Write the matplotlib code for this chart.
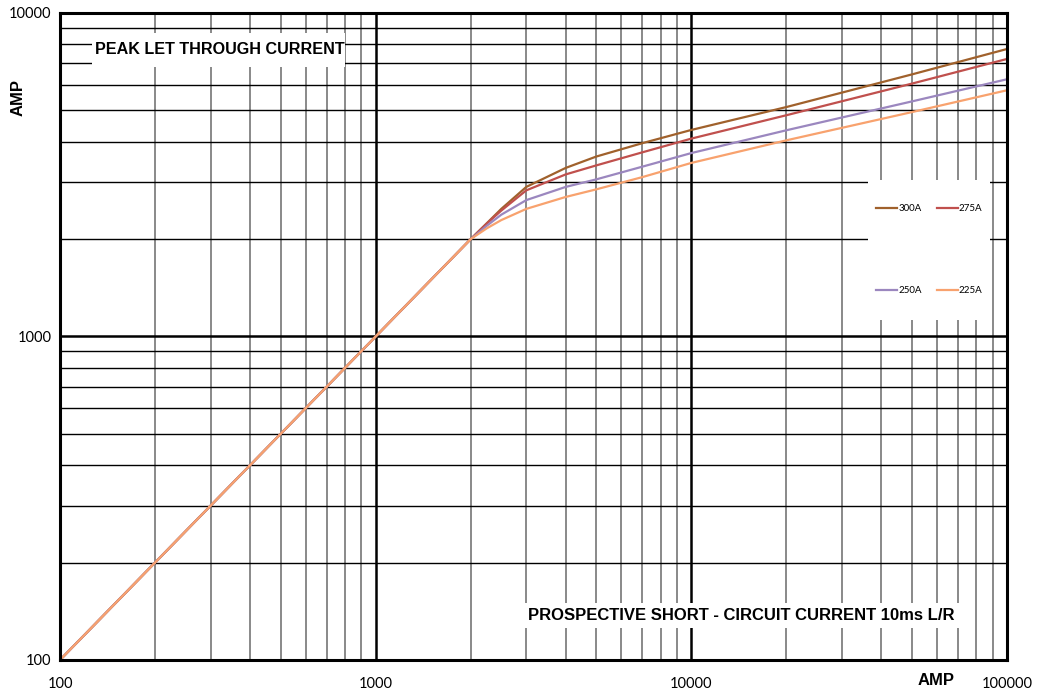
import matplotlib
matplotlib.use('Agg')
from matplotlib import pyplot as plt
from matplotlib.patches import Rectangle

plt.rcParams['font.family'] = ['Lato', 'DejaVu Sans']
BOLD = ['Liberation Sans', 'DejaVu Sans']

# prospective current (A)
current = [100, 2000, 2250, 2500, 3000, 4000, 5000, 7000, 10000, 20000, 50000, 100000]

# peak let-through current (A) per fuse rating
peak_300 = [100, 2000, 2240, 2480, 2900, 3320, 3600, 3960, 4350, 5120, 6460, 7740]
peak_275 = [100, 2000, 2235, 2450, 2830, 3170, 3380, 3710, 4090, 4830, 6050, 7210]
peak_250 = [100, 2000, 2200, 2380, 2640, 2900, 3060, 3350, 3690, 4340, 5330, 6240]
peak_225 = [100, 2000, 2160, 2290, 2480, 2700, 2850, 3110, 3440, 4040, 4940, 5770]

labels = ['300A', '275A', '250A', '225A']
colors = ['#A0612C', '#C0504D', '#9B87BF', '#F8A26E']

xticks = [100, 1000, 10000, 100000]
yticks = [100, 1000, 10000]

fig = plt.figure(figsize=(10.4, 6.95), dpi=100)
ax = fig.add_axes([0.0577, 0.0504, 0.9106, 0.9309])

lines = []
for y, lab, c in zip([peak_300, peak_275, peak_250, peak_225], labels, colors):
    ln, = ax.plot(current, y, color=c, lw=1.6, label=lab, zorder=3)
    lines.append(ln)

ax.set_xscale('log')
ax.set_yscale('log')
ax.set_xlim(100, 100000)
ax.set_ylim(100, 10000)

ax.set_xticks(xticks, [str(v) for v in xticks])
ax.set_yticks(yticks, [str(v) for v in yticks])
ax.tick_params(which='both', length=0, labelsize=10.5)
ax.tick_params(axis='x', pad=12)
ax.tick_params(axis='y', pad=6)

ax.set_axisbelow(True)
ax.grid(which='major', color='black', lw=1.8)
ax.xaxis.grid(which='minor', color='#808080', lw=1.3)
ax.yaxis.grid(which='minor', color='black', lw=1.0)
for s in ax.spines.values():
    s.set_linewidth(2.2)
    s.set_zorder(5)

# white boxes covering the grid behind texts and legend
ax.add_patch(Rectangle((0.0338, 0.9165), 0.267, 0.0525, transform=ax.transAxes,
                       facecolor='white', edgecolor='none', zorder=1.5))
ax.text(0.037, 0.944, 'PEAK LET THROUGH CURRENT', transform=ax.transAxes,
        fontsize=11.6, fontweight='bold', family=BOLD, va='center', ha='left', zorder=4)

ax.add_patch(Rectangle((0.487, 0.0495), 0.465, 0.0385, transform=ax.transAxes,
                       facecolor='white', edgecolor='none', zorder=1.5))
ax.text(0.494, 0.0695, 'PROSPECTIVE SHORT - CIRCUIT CURRENT 10ms L/R',
        transform=ax.transAxes, fontsize=12.0, fontweight='bold', family=BOLD,
        va='center', ha='left', zorder=4)

ax.add_patch(Rectangle((0.853, 0.5255), 0.129, 0.2164, transform=ax.transAxes,
                       facecolor='white', edgecolor='none', zorder=1.5))

ax.text(0.925, -0.031, 'AMP', transform=ax.transAxes, fontsize=12,
        fontweight='bold', family=BOLD, ha='center', va='center', clip_on=False)
ax.text(-0.044, 0.87, 'AMP', transform=ax.transAxes, fontsize=12,
        fontweight='bold', family=BOLD, ha='center', va='center', rotation=90,
        clip_on=False)

# legend filled column-wise: reorder so rows read 300A 275A / 250A 225A
order = [0, 2, 1, 3]
leg = ax.legend([lines[i] for i in order], [labels[i] for i in order],
                ncol=2, loc='center', bbox_to_anchor=(0.918, 0.634),
                fontsize=7, frameon=False, labelspacing=7.5,
                borderpad=0.5, handlelength=2.2, handletextpad=0.1,
                columnspacing=1.5)
leg.set_zorder(6)

plt.savefig('out.png')
